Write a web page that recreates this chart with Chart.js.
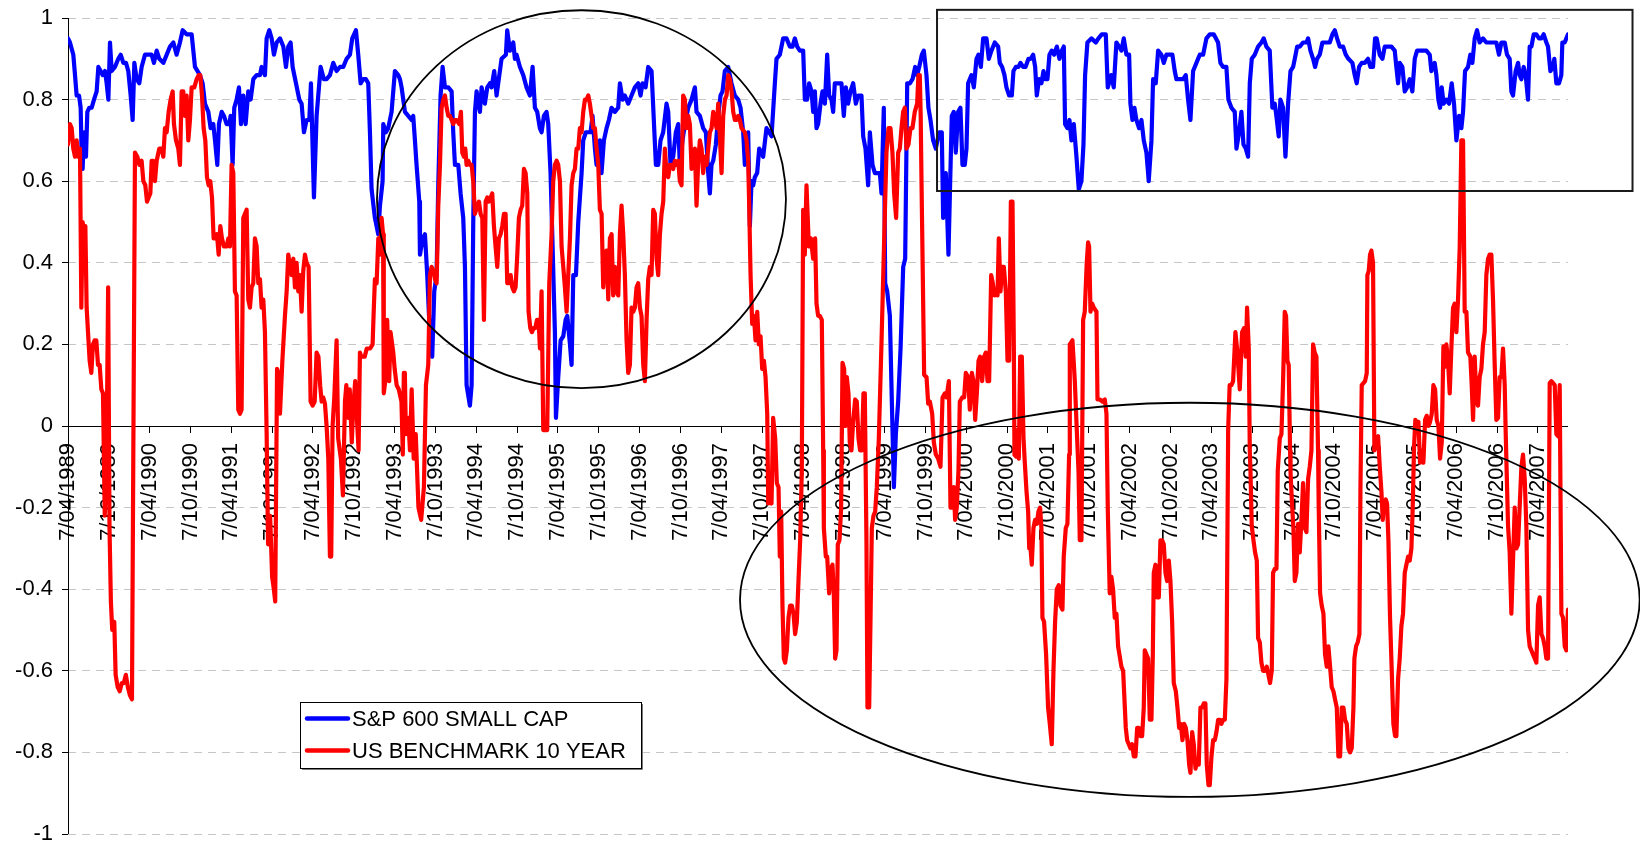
<!DOCTYPE html>
<html>
<head>
<meta charset="utf-8">
<script src="https://cdn.jsdelivr.net/npm/chart.js@4.4.1/dist/chart.umd.min.js"></script>
<style>
  html, body { margin: 0; padding: 0; background: #ffffff; }
  #wrap { width: 1640px; height: 843px; position: relative; }
</style>
</head>
<body>
<div id="wrap"><canvas id="chart" width="1640" height="843"></canvas></div>
<script>
// Rolling correlations. Time is measured in months after 7 April 1989.
const periodLabels = [
  '7/04/1989','7/10/1989','7/04/1990','7/10/1990','7/04/1991','7/10/1991',
  '7/04/1992','7/10/1992','7/04/1993','7/10/1993','7/04/1994','7/10/1994',
  '7/04/1995','7/10/1995','7/04/1996','7/10/1996','7/04/1997','7/10/1997',
  '7/04/1998','7/10/1998','7/04/1999','7/10/1999','7/04/2000','7/10/2000',
  '7/04/2001','7/10/2001','7/04/2002','7/10/2002','7/04/2003','7/10/2003',
  '7/04/2004','7/10/2004','7/04/2005','7/10/2005','7/04/2006','7/10/2006',
  '7/04/2007'
];
const periodMonths = periodLabels.map((_, i) => i * 6);
const lastMonth = 220.42;

const seriesNames = ['S&P 600 SMALL CAP', 'US BENCHMARK 10 YEAR'];

// [month, correlation]
const smallCapCorr = [
[0,0.95],[0.29,0.94],[0.78,0.91],[1.03,0.86],[1.27,0.81],[1.62,0.81],[1.86,0.78],[2.01,0.66],[2.15,0.63],[2.35,0.72],
[2.64,0.66],[2.84,0.77],[3.13,0.78],[3.48,0.78],[3.82,0.80],[4.21,0.82],[4.46,0.88],[4.80,0.87],[5.09,0.86],[5.44,0.87],
[5.68,0.84],[5.93,0.80],[6.17,0.94],[6.42,0.87],[6.90,0.88],[7.39,0.90],[7.74,0.91],[8.13,0.89],[8.52,0.89],[8.86,0.87],
[9.21,0.81],[9.50,0.75],[9.75,0.89],[10.09,0.85],[10.48,0.84],[10.82,0.88],[11.31,0.91],[11.80,0.91],[12.29,0.91],[12.63,0.89],
[13.03,0.92],[13.42,0.90],[14.01,0.89],[14.50,0.91],[14.99,0.93],[15.48,0.94],[15.96,0.91],[16.45,0.94],[16.85,0.97],[17.43,0.96],
[18.17,0.96],[18.66,0.88],[19.39,0.86],[19.78,0.84],[20.13,0.79],[20.62,0.77],[20.96,0.73],[21.35,0.74],[21.60,0.70],[21.94,0.64],
[22.18,0.74],[22.58,0.77],[22.92,0.76],[23.31,0.74],[23.70,0.74],[23.90,0.76],[24.19,0.64],[24.43,0.78],[24.78,0.80],[25.12,0.83],
[25.42,0.74],[25.76,0.81],[26.10,0.74],[26.49,0.82],[26.84,0.80],[27.23,0.85],[27.72,0.86],[28.21,0.86],[28.45,0.88],[28.94,0.86],
[29.19,0.95],[29.58,0.97],[29.92,0.95],[30.26,0.91],[30.66,0.94],[31.15,0.95],[31.64,0.93],[32.03,0.88],[32.37,0.93],[32.71,0.94],
[33.01,0.88],[33.50,0.84],[33.99,0.80],[34.33,0.79],[34.67,0.72],[35.06,0.75],[35.46,0.75],[35.70,0.84],[36.14,0.56],[36.53,0.76],
[37.12,0.88],[37.61,0.85],[38.00,0.85],[38.49,0.86],[38.98,0.89],[39.47,0.87],[39.96,0.88],[40.45,0.88],[40.94,0.90],[41.43,0.91],
[41.77,0.95],[42.31,0.97],[42.65,0.91],[43.00,0.84],[43.39,0.85],[43.78,0.85],[44.12,0.84],[44.37,0.72],[44.61,0.58],[45.10,0.51],
[45.59,0.47],[45.84,0.54],[46.23,0.60],[46.33,0.74],[46.72,0.72],[47.06,0.73],[47.55,0.77],[48.04,0.87],[48.53,0.86],[48.78,0.85],
[49.02,0.83],[49.51,0.77],[50.00,0.76],[50.49,0.75],[50.73,0.76],[50.98,0.70],[51.22,0.64],[51.62,0.55],[51.72,0.42],[52.11,0.46],
[52.45,0.47],[52.79,0.37],[53.18,0.22],[53.52,0.17],[53.82,0.33],[54.16,0.37],[54.41,0.59],[54.75,0.81],[55.05,0.88],[55.39,0.83],
[55.88,0.83],[56.37,0.82],[56.61,0.72],[56.86,0.64],[57.35,0.64],[57.69,0.57],[58.08,0.51],[58.33,0.39],[58.57,0.10],[59.06,0.05],
[59.31,0.10],[59.55,0.50],[59.80,0.77],[60.04,0.82],[60.53,0.77],[60.78,0.83],[61.26,0.79],[61.61,0.83],[62.00,0.84],[62.24,0.83],
[62.63,0.87],[62.98,0.81],[63.22,0.84],[63.71,0.90],[64.35,0.91],[64.54,0.97],[64.94,0.92],[65.43,0.94],[65.67,0.90],[65.92,0.91],
[66.41,0.88],[66.90,0.86],[67.38,0.83],[67.87,0.81],[68.27,0.88],[68.61,0.78],[68.95,0.77],[69.34,0.73],[69.59,0.72],[69.93,0.76],
[70.32,0.77],[70.57,0.74],[70.91,0.62],[71.16,0.47],[71.55,0.23],[71.70,0.02],[72.04,0.12],[72.39,0.21],[72.78,0.22],[73.12,0.26],
[73.37,0.27],[73.76,0.20],[74.00,0.15],[74.25,0.37],[74.64,0.37],[74.98,0.50],[75.47,0.62],[75.71,0.70],[76.10,0.72],[76.45,0.72],
[76.79,0.72],[77.08,0.76],[77.43,0.68],[77.67,0.64],[78.16,0.70],[78.40,0.62],[78.75,0.70],[79.14,0.73],[79.48,0.75],[79.87,0.78],
[80.36,0.77],[80.85,0.78],[81.10,0.84],[81.49,0.80],[81.83,0.81],[82.32,0.79],[82.81,0.81],[83.30,0.83],[83.79,0.84],[84.14,0.81],
[84.43,0.84],[84.87,0.83],[85.26,0.88],[85.75,0.87],[86.00,0.78],[86.39,0.64],[86.73,0.64],[87.07,0.70],[87.46,0.72],[87.95,0.79],
[88.20,0.77],[88.54,0.64],[88.93,0.66],[89.32,0.72],[89.67,0.74],[89.91,0.64],[90.30,0.70],[90.65,0.74],[91.14,0.78],[91.63,0.80],
[92.12,0.83],[92.36,0.77],[92.85,0.76],[93.34,0.73],[93.73,0.72],[94.08,0.62],[94.32,0.57],[94.56,0.64],[94.81,0.65],[95.20,0.69],
[95.54,0.76],[95.89,0.81],[96.18,0.82],[96.52,0.87],[97.01,0.88],[97.50,0.84],[97.99,0.81],[98.48,0.80],[98.83,0.78],[99.22,0.72],
[99.46,0.64],[99.95,0.72],[100.20,0.49],[100.44,0.60],[100.69,0.59],[100.93,0.61],[101.27,0.62],[101.57,0.68],[101.91,0.67],[102.15,0.66],
[102.64,0.73],[103.04,0.72],[103.38,0.71],[103.87,0.84],[104.11,0.90],[104.60,0.91],[105.09,0.95],[105.58,0.95],[106.07,0.93],[106.46,0.93],
[106.81,0.95],[107.15,0.93],[107.54,0.92],[108.03,0.92],[108.28,0.80],[108.62,0.80],[108.91,0.84],[109.26,0.82],[109.50,0.77],[109.75,0.82],
[109.99,0.73],[110.23,0.74],[110.58,0.79],[110.87,0.82],[111.22,0.79],[111.56,0.91],[111.85,0.81],[112.19,0.80],[112.44,0.77],[112.68,0.84],
[113.17,0.84],[113.66,0.84],[114.00,0.76],[114.30,0.83],[114.64,0.79],[114.98,0.82],[115.38,0.84],[115.77,0.79],[116.11,0.81],[116.60,0.81],
[116.85,0.71],[117.19,0.68],[117.58,0.59],[117.83,0.72],[118.22,0.64],[118.56,0.62],[119.05,0.62],[119.30,0.62],[119.54,0.57],[119.88,0.78],
[120.08,0.35],[120.38,0.33],[120.77,0.27],[121.06,0.06],[121.36,-0.15],[121.65,-0.02],[121.99,0.06],[122.34,0.19],[122.73,0.39],[123.02,0.41],
[123.32,0.84],[123.71,0.84],[124.10,0.85],[124.49,0.88],[124.78,0.86],[125.08,0.88],[125.47,0.91],[125.76,0.92],[126.15,0.86],[126.44,0.78],
[126.74,0.75],[127.13,0.70],[127.52,0.68],[128.01,0.72],[128.40,0.72],[128.60,0.51],[128.99,0.62],[129.38,0.42],[129.62,0.59],[129.87,0.76],
[130.16,0.77],[130.46,0.67],[130.80,0.77],[131.14,0.78],[131.44,0.64],[131.78,0.64],[132.03,0.68],[132.27,0.84],[132.76,0.86],[133.11,0.83],
[133.50,0.90],[133.79,0.91],[134.14,0.88],[134.48,0.95],[134.97,0.95],[135.31,0.90],[135.70,0.92],[136.19,0.94],[136.68,0.93],[136.92,0.89],
[137.27,0.88],[137.61,0.86],[137.90,0.83],[138.30,0.81],[138.69,0.81],[138.93,0.87],[139.28,0.88],[139.67,0.88],[139.96,0.89],[140.35,0.88],
[140.70,0.88],[141.14,0.90],[141.48,0.90],[141.82,0.91],[142.12,0.88],[142.36,0.81],[142.70,0.85],[143.05,0.84],[143.34,0.87],[143.63,0.85],
[143.93,0.85],[144.22,0.91],[144.56,0.92],[144.91,0.91],[145.30,0.93],[145.69,0.90],[146.04,0.92],[146.33,0.93],[146.52,0.74],[146.87,0.73],
[147.16,0.75],[147.45,0.70],[147.80,0.74],[148.19,0.66],[148.53,0.58],[148.92,0.60],[149.22,0.69],[149.46,0.86],[149.80,0.94],[150.39,0.95],
[151.03,0.94],[151.42,0.95],[151.91,0.96],[152.25,0.96],[152.50,0.96],[152.79,0.83],[153.28,0.86],[153.67,0.83],[154.06,0.94],[154.46,0.93],
[154.80,0.92],[155.14,0.95],[155.53,0.91],[155.93,0.91],[156.12,0.79],[156.42,0.75],[156.71,0.78],[157.00,0.75],[157.39,0.73],[157.74,0.75],
[158.08,0.70],[158.47,0.67],[158.81,0.60],[159.21,0.70],[159.45,0.85],[159.84,0.84],[160.19,0.92],[160.68,0.91],[161.02,0.89],[161.41,0.91],
[161.80,0.91],[162.29,0.91],[162.63,0.87],[162.88,0.85],[163.37,0.85],[163.86,0.85],[164.25,0.86],[164.59,0.80],[164.94,0.75],[165.33,0.87],
[165.82,0.89],[166.31,0.91],[166.80,0.91],[167.29,0.95],[167.78,0.96],[168.36,0.96],[169.00,0.94],[169.34,0.89],[169.73,0.88],[170.22,0.88],
[170.52,0.80],[170.96,0.78],[171.45,0.77],[171.70,0.68],[172.09,0.72],[172.43,0.77],[172.73,0.69],[173.07,0.68],[173.41,0.66],[173.66,0.84],
[173.95,0.90],[174.39,0.91],[174.88,0.93],[175.37,0.94],[175.71,0.95],[176.10,0.93],[176.59,0.92],[176.98,0.78],[177.33,0.79],[177.57,0.76],
[177.91,0.71],[178.16,0.80],[178.55,0.78],[178.90,0.66],[179.29,0.79],[179.64,0.87],[180.03,0.88],[180.27,0.90],[180.62,0.93],[181.00,0.93],
[181.49,0.94],[181.98,0.94],[182.23,0.95],[182.57,0.92],[182.96,0.90],[183.26,0.88],[183.55,0.90],[183.94,0.91],[184.33,0.94],[184.68,0.94],
[185.07,0.94],[185.41,0.94],[185.80,0.96],[186.15,0.97],[186.49,0.95],[186.88,0.93],[187.37,0.93],[187.76,0.91],[188.15,0.90],[188.74,0.89],
[189.08,0.86],[189.37,0.84],[189.72,0.88],[190.11,0.89],[190.55,0.89],[191.04,0.90],[191.38,0.88],[191.77,0.88],[192.07,0.95],[192.31,0.95],
[192.75,0.91],[193.15,0.90],[193.49,0.93],[193.98,0.93],[194.47,0.93],[194.96,0.92],[195.20,0.88],[195.45,0.84],[195.69,0.89],[196.08,0.88],
[196.43,0.82],[196.77,0.83],[197.16,0.85],[197.55,0.82],[197.90,0.90],[198.24,0.92],[198.63,0.92],[199.12,0.92],[199.61,0.92],[200.10,0.91],
[200.34,0.87],[200.83,0.89],[201.08,0.86],[201.37,0.80],[201.62,0.78],[201.86,0.83],[202.15,0.79],[202.55,0.80],[202.94,0.79],[203.33,0.84],
[203.67,0.79],[204.02,0.70],[204.41,0.76],[204.75,0.73],[205.00,0.77],[205.29,0.87],[205.73,0.88],[206.07,0.91],[206.37,0.89],[206.71,0.95],
[207.05,0.97],[207.44,0.94],[207.93,0.95],[208.42,0.94],[209.01,0.94],[209.40,0.94],[209.89,0.94],[210.28,0.91],[210.63,0.94],[211.12,0.94],
[211.46,0.91],[211.85,0.90],[212.10,0.82],[212.34,0.81],[212.73,0.87],[213.08,0.89],[213.32,0.86],[213.57,0.85],[213.91,0.88],[214.20,0.86],
[214.54,0.80],[214.79,0.93],[215.04,0.93],[215.38,0.96],[215.77,0.96],[216.16,0.95],[216.50,0.95],[216.85,0.96],[217.24,0.94],[217.48,0.93],
[217.83,0.87],[218.22,0.88],[218.41,0.90],[218.71,0.84],[219.10,0.84],[219.44,0.86],[219.59,0.94],[219.93,0.94],[220.18,0.95],[220.42,0.96]
];

const treasuryCorr = [
[0,0.69],[0.29,0.74],[0.54,0.73],[0.78,0.68],[1.03,0.66],[1.27,0.70],[1.52,0.66],[1.76,0.68],[1.96,0.29],[2.15,0.50],
[2.40,0.47],[2.55,0.49],[2.74,0.29],[2.94,0.23],[3.18,0.16],[3.43,0.13],[3.67,0.20],[3.92,0.21],[4.16,0.21],[4.41,0.15],
[4.65,0.15],[4.90,0.09],[5.14,0.08],[5.40,-0.22],[5.65,-0.10],[5.90,0.34],[6.10,-0.25],[6.30,-0.43],[6.50,-0.50],[6.80,-0.48],
[7.00,-0.61],[7.30,-0.64],[7.60,-0.65],[7.90,-0.63],[8.20,-0.63],[8.50,-0.61],[8.80,-0.64],[9.10,-0.66],[9.40,-0.67],[9.84,0.67],
[10.19,0.66],[10.48,0.64],[10.82,0.65],[11.07,0.60],[11.36,0.59],[11.61,0.55],[11.85,0.56],[12.10,0.57],[12.29,0.65],[12.54,0.65],
[12.78,0.60],[13.03,0.65],[13.42,0.68],[13.76,0.68],[14.01,0.66],[14.25,0.73],[14.50,0.72],[14.79,0.77],[15.08,0.80],[15.38,0.82],
[15.57,0.74],[15.87,0.70],[16.21,0.68],[16.45,0.64],[16.70,0.82],[16.94,0.82],[17.19,0.76],[17.43,0.81],[17.68,0.70],[17.92,0.75],
[18.17,0.83],[18.56,0.83],[18.90,0.85],[19.20,0.86],[19.44,0.86],[19.69,0.81],[19.93,0.73],[20.18,0.70],[20.42,0.61],[20.67,0.59],
[20.91,0.60],[21.16,0.56],[21.40,0.46],[21.65,0.46],[21.89,0.47],[22.14,0.42],[22.38,0.49],[22.62,0.46],[22.92,0.44],[23.31,0.44],
[23.56,0.46],[23.80,0.44],[24.04,0.64],[24.29,0.62],[24.53,0.33],[24.78,0.32],[25.02,0.04],[25.27,0.03],[25.51,0.04],[25.76,0.51],
[26.00,0.52],[26.25,0.53],[26.49,0.31],[26.74,0.29],[26.98,0.34],[27.23,0.35],[27.47,0.46],[27.72,0.44],[27.96,0.35],[28.21,0.36],
[28.45,0.29],[28.70,0.31],[28.94,0.23],[29.19,-0.02],[29.40,-0.29],[29.70,-0.22],[30.00,-0.37],[30.25,-0.40],[30.45,-0.43],[30.72,0.14],
[30.90,0.13],[31.15,0.03],[31.50,0.16],[31.88,0.27],[32.13,0.33],[32.37,0.42],[32.62,0.39],[32.86,0.37],[33.11,0.41],
[33.35,0.34],[33.59,0.40],[33.84,0.33],[34.08,0.37],[34.33,0.28],[34.57,0.38],[34.82,0.42],[35.06,0.40],[35.36,0.39],[35.65,0.06],
[35.95,0.05],[36.25,0.06],[36.53,0.18],[36.80,0.17],[37.05,0.10],[37.27,0.06],[37.51,0.07],[37.76,0.055],[38.00,0.00],[38.25,-0.08],
[38.49,-0.32],[38.68,-0.32],[38.88,0.00],[39.13,0.07],[39.47,0.21],[39.70,-0.03],[40.10,-0.08],[40.40,-0.17],[40.70,0.06],[40.90,0.10],[41.20,0.02],
[41.40,0.09],[41.70,-0.04],[41.90,0.04],[42.20,0.11],[42.45,0.02],[42.70,-0.06],[42.90,0.18],[43.10,0.17],[43.60,0.17],[43.90,0.19],
[44.40,0.19],[44.76,0.20],[44.90,0.27],[45.10,0.36],[45.35,0.35],[45.60,0.46],[45.84,0.42],[46.08,0.51],[46.30,0.47],[46.40,0.08],
[46.70,0.12],[46.90,0.26],[47.20,0.11],[47.40,0.23],[47.80,0.18],[48.00,0.14],[48.30,0.10],[48.60,0.09],[49.00,0.06],[49.20,-0.07],
[49.35,0.13],[49.50,0.13],[49.65,-0.02],[50.00,0.02],[50.25,-0.06],[50.50,0.09],[50.80,-0.08],[51.10,-0.02],[51.50,-0.20],[51.90,-0.23],
[52.30,-0.15],[52.60,0.10],[52.94,0.15],[53.19,0.37],[53.43,0.39],[53.68,0.38],[53.92,0.36],[54.17,0.35],[54.41,0.54],[54.66,0.64],
[54.90,0.78],[55.15,0.80],[55.39,0.81],[55.64,0.78],[55.88,0.76],[56.13,0.76],[56.37,0.75],[56.61,0.74],[56.86,0.75],[57.10,0.75],
[57.50,0.74],[57.74,0.77],[57.94,0.67],[58.18,0.66],[58.38,0.68],[58.57,0.64],[58.82,0.65],[59.06,0.64],[59.31,0.64],[59.55,0.60],
[59.80,0.52],[60.14,0.54],[60.39,0.55],[60.63,0.52],[60.88,0.51],[61.12,0.26],[61.37,0.55],[61.61,0.56],[61.85,0.55],[62.10,0.56],
[62.34,0.57],[62.59,0.49],[62.83,0.44],[63.08,0.39],[63.32,0.46],[63.57,0.47],[63.81,0.49],[64.06,0.52],[64.30,0.52],[64.55,0.35],
[64.79,0.35],[65.04,0.37],[65.28,0.34],[65.53,0.33],[65.77,0.34],[66.02,0.42],[66.26,0.51],[66.51,0.53],[66.75,0.54],[67.00,0.63],
[67.24,0.62],[67.49,0.57],[67.68,0.28],[67.93,0.24],[68.17,0.23],[68.42,0.24],[68.66,0.24],[68.91,0.26],[69.15,0.26],[69.35,0.19],
[69.59,0.33],[69.84,-0.01],[70.13,-0.01],[70.42,-0.01],[70.72,0.35],[71.06,0.47],[71.30,0.60],[71.55,0.64],[71.80,0.65],[72.04,0.64],
[72.29,0.60],[72.53,0.44],[72.78,0.39],[73.02,0.34],[73.27,0.28],[73.51,0.37],[73.76,0.46],[74.00,0.59],[74.25,0.62],[74.49,0.63],
[74.73,0.68],[74.98,0.68],[75.22,0.73],[75.47,0.72],[75.71,0.77],[75.96,0.80],[76.20,0.80],[76.45,0.81],[76.69,0.79],[76.94,0.76],
[77.18,0.73],[77.43,0.73],[77.67,0.68],[77.92,0.64],[78.16,0.53],[78.41,0.52],[78.65,0.34],[78.90,0.42],[79.14,0.43],[79.39,0.31],
[79.63,0.46],[79.88,0.47],[80.12,0.32],[80.37,0.39],[80.61,0.33],[80.86,0.32],[81.10,0.47],[81.34,0.54],[81.59,0.47],[81.83,0.37],
[82.08,0.21],[82.32,0.13],[82.57,0.15],[82.81,0.29],[83.06,0.28],[83.30,0.29],[83.55,0.34],[83.79,0.35],[84.04,0.29],[84.28,0.27],
[84.53,0.15],[84.77,0.11],[85.02,0.26],[85.26,0.36],[85.51,0.39],[85.75,0.37],[86.00,0.53],[86.24,0.52],[86.49,0.41],[86.73,0.37],
[86.98,0.47],[87.22,0.52],[87.47,0.55],[87.71,0.68],[87.96,0.62],[88.20,0.61],[88.45,0.64],[88.69,0.64],[88.94,0.63],[89.18,0.65],
[89.43,0.64],[89.67,0.65],[89.91,0.60],[90.16,0.59],[90.40,0.81],[90.65,0.80],[90.89,0.73],[91.14,0.76],[91.38,0.74],[91.63,0.63],
[91.87,0.65],[92.12,0.68],[92.36,0.54],[92.61,0.65],[92.85,0.70],[93.10,0.68],[93.34,0.62],[93.59,0.66],[93.83,0.64],[94.08,0.68],
[94.32,0.72],[94.57,0.73],[94.81,0.77],[95.06,0.75],[95.30,0.73],[95.55,0.79],[95.79,0.71],[96.04,0.62],[96.28,0.76],[96.53,0.80],
[96.77,0.81],[97.02,0.86],[97.26,0.85],[97.51,0.82],[97.75,0.77],[98.00,0.75],[98.24,0.75],[98.49,0.76],[98.73,0.75],[98.97,0.73],
[99.46,0.72],[99.71,0.70],[99.95,0.65],[100.10,0.54],[100.30,0.37],[100.54,0.25],[100.79,0.27],[101.03,0.21],[101.28,0.28],[101.52,0.20],
[101.77,0.22],[102.01,0.14],[102.26,0.16],[102.50,0.12],[102.75,0.03],[102.90,-0.19],[103.03,-0.16],[103.38,-0.19],[103.62,0.02],[103.92,-0.03],
[104.16,-0.14],[104.41,-0.15],[104.60,-0.32],[104.80,-0.21],[104.99,-0.44],[105.19,-0.57],[105.38,-0.58],[105.63,-0.55],[105.87,-0.47],[106.12,-0.44],
[106.36,-0.44],[106.61,-0.46],[106.85,-0.51],[107.10,-0.48],[107.34,-0.38],[107.59,-0.28],[107.83,-0.11],[108.03,0.53],[108.27,0.42],[108.52,0.59],
[108.86,0.44],[109.16,0.46],[109.50,0.41],[109.79,0.46],[109.99,0.30],[110.23,0.27],[110.48,0.27],[110.77,0.26],[110.97,-0.06],[111.07,-0.25],
[111.36,-0.32],[111.56,-0.32],[111.85,-0.41],[112.09,-0.35],[112.34,-0.34],[112.53,-0.41],[112.73,-0.57],[112.93,-0.55],[113.12,-0.29],[113.37,-0.28],
[113.61,-0.20],[113.81,0.155],[114.05,0.14],[114.25,0.00],[114.44,0.12],[114.69,0.08],[114.88,-0.04],[115.13,-0.06],[115.37,0.01],[115.67,0.065],
[115.91,0.06],[116.16,-0.03],[116.40,-0.06],[116.65,-0.06],[116.89,0.08],[117.09,0.08],[117.33,-0.28],[117.48,-0.69],[117.73,-0.69],[117.92,-0.48],
[118.12,-0.25],[118.36,-0.22],[118.61,-0.21],[118.85,-0.15],[119.15,-0.03],[119.55,0.21],[120.03,0.52],[120.27,0.67],[120.57,0.73],[120.86,0.73],
[121.15,0.67],[121.40,0.57],[121.69,0.51],[121.99,0.67],[122.23,0.68],[122.48,0.73],[122.72,0.77],[122.97,0.78],[123.21,0.68],[123.50,0.69],
[123.80,0.73],[124.09,0.73],[124.43,0.77],[124.78,0.79],[124.97,0.86],[125.17,0.86],[125.30,0.76],[125.42,0.60],[125.81,0.125],[126.16,0.12],
[126.40,0.055],[126.65,0.06],[126.99,0.03],[127.23,-0.04],[127.53,-0.07],[127.87,-0.08],[128.21,-0.10],[128.51,0.07],[128.85,0.08],[129.09,0.07],
[129.44,0.11],[129.68,-0.20],[129.97,-0.20],[130.16,-0.15],[130.36,-0.23],[130.60,-0.20],[130.85,-0.11],[131.05,0.06],[131.40,0.07],[131.69,0.07],
[131.93,0.13],[132.28,0.12],[132.52,0.04],[132.82,0.13],[133.06,0.11],[133.31,0.015],[133.55,0.08],[133.80,0.16],[134.04,0.17],[134.33,0.11],
[134.63,0.17],[134.87,0.18],[135.12,0.11],[135.36,0.11],[135.66,0.37],[135.90,0.35],[136.15,0.32],[136.39,0.33],[136.59,0.32],[136.78,0.46],
[137.03,0.33],[137.27,0.39],[137.52,0.39],[137.81,0.33],[138.06,0.16],[138.30,0.16],[138.55,0.55],[138.79,0.55],[138.99,0.19],[139.08,-0.07],
[139.33,-0.075],[139.52,-0.01],[139.72,-0.08],[139.92,0.17],[140.16,0.17],[140.41,-0.03],[140.60,-0.09],[140.85,-0.16],[141.09,-0.21],[141.25,-0.30],
[141.40,-0.29],[141.62,-0.34],[141.87,-0.25],[142.11,-0.23],[142.36,-0.24],[142.60,-0.21],[142.85,-0.20],[143.04,-0.25],[143.19,-0.47],
[143.43,-0.48],[143.73,-0.56],[144.02,-0.69],[144.27,-0.73],[144.56,-0.78],[144.81,-0.60],[145.05,-0.48],[145.30,-0.40],[145.59,-0.39],[145.83,-0.44],
[146.13,-0.45],[146.32,-0.32],[146.62,-0.25],[146.86,-0.24],[147.11,-0.07],[147.21,0.20],[147.60,0.21],[147.95,0.11],[148.19,0.01],[148.49,-0.11],
[148.68,-0.28],[148.92,-0.28],[149.17,0.26],[149.41,0.28],[149.70,0.40],[149.90,0.45],[150.05,0.44],[150.25,0.28],[150.49,0.30],[150.74,0.29],
[151.13,0.28],[151.28,0.065],[151.62,0.065],[152.01,0.06],[152.35,0.065],[152.60,0.03],[152.80,-0.21],[152.95,-0.32],[153.08,-0.41],[153.33,-0.37],
[153.57,-0.40],[153.82,-0.47],[154.06,-0.46],[154.31,-0.54],[154.80,-0.59],[155.05,-0.60],[155.44,-0.74],[155.64,-0.77],[155.88,-0.78],[156.13,-0.79],
[156.37,-0.78],[156.62,-0.81],[156.86,-0.81],[157.11,-0.74],[157.35,-0.74],[157.60,-0.76],[157.84,-0.76],[158.08,-0.69],[158.23,-0.55],[158.48,-0.56],
[158.72,-0.57],[158.97,-0.72],[159.21,-0.72],[159.41,-0.56],[159.55,-0.36],[159.80,-0.34],[160.04,-0.42],[160.29,-0.42],[160.53,-0.28],[160.78,-0.28],
[161.02,-0.29],[161.27,-0.36],[161.51,-0.38],[161.76,-0.33],[162.00,-0.38],[162.25,-0.48],[162.49,-0.63],[162.79,-0.65],[163.03,-0.69],[163.28,-0.74],
[163.52,-0.73],[163.77,-0.77],[164.01,-0.73],[164.26,-0.74],[164.50,-0.77],[164.75,-0.83],[164.94,-0.85],[165.19,-0.75],[165.43,-0.78],[165.68,-0.84],
[165.92,-0.82],[166.16,-0.83],[166.41,-0.69],[166.65,-0.69],[166.90,-0.68],[167.14,-0.68],[167.34,-0.83],[167.59,-0.88],[167.78,-0.88],[168.03,-0.81],
[168.27,-0.77],[168.52,-0.77],[168.76,-0.75],[169.01,-0.72],[169.25,-0.72],[169.50,-0.73],[169.74,-0.72],[169.99,-0.72],[170.23,-0.62],[170.48,-0.01],
[170.70,0.10],[170.96,0.10],[171.21,0.11],[171.55,0.23],[171.84,0.18],[172.19,0.09],[172.53,0.23],[172.82,0.24],[173.07,0.17],[173.26,0.29],
[173.51,0.19],[173.66,-0.06],[173.76,-0.11],[173.95,-0.245],[174.20,-0.28],[174.44,-0.31],[174.69,-0.33],[174.88,-0.52],[175.13,-0.53],[175.37,-0.58],
[175.62,-0.60],[175.91,-0.60],[176.15,-0.59],[176.40,-0.61],[176.64,-0.63],[176.89,-0.60],[177.08,-0.36],[177.33,-0.35],[177.58,-0.35],[177.77,-0.11],
[178.07,-0.03],[178.31,-0.02],[178.55,0.11],[178.80,0.28],[178.99,0.27],[179.19,0.16],[179.38,0.15],[179.58,-0.06],[179.65,-0.115],[179.83,-0.18],
[180.07,-0.25],[180.27,-0.38],[180.51,-0.36],[180.76,-0.24],[181.00,-0.31],[181.25,-0.23],[181.49,-0.14],[181.74,-0.25],[181.98,-0.26],[182.23,-0.13],
[182.47,-0.10],[182.72,-0.06],[182.96,0.20],[183.20,0.18],[183.45,0.17],[183.69,-0.06],[183.79,-0.20],[183.99,-0.41],[184.23,-0.44],[184.48,-0.46],
[184.72,-0.56],[184.97,-0.59],[185.21,-0.54],[185.46,-0.59],[185.70,-0.64],[185.95,-0.65],[186.19,-0.67],[186.44,-0.69],[186.68,-0.81],[186.93,-0.81],
[187.17,-0.69],[187.42,-0.69],[187.66,-0.72],[187.91,-0.73],[188.15,-0.79],[188.40,-0.80],[188.64,-0.79],[188.89,-0.69],[189.03,-0.57],[189.28,-0.54],
[189.52,-0.53],[189.77,-0.51],[189.92,-0.155],[190.11,0.10],[190.36,0.105],[190.60,0.11],[190.85,0.13],[190.94,0.37],[191.14,0.38],[191.33,0.42],
[191.53,0.43],[191.77,0.40],[191.97,-0.06],[192.27,-0.03],[192.51,-0.025],[192.76,-0.10],[193.00,-0.16],[193.20,-0.23],[193.39,-0.19],[193.64,-0.18],
[193.83,-0.19],[194.03,-0.28],[194.27,-0.47],[194.52,-0.60],[194.76,-0.73],[195.01,-0.76],[195.20,-0.76],[195.45,-0.62],[195.69,-0.57],[195.94,-0.49],
[196.18,-0.46],[196.43,-0.36],[196.67,-0.34],[196.92,-0.32],[197.16,-0.33],[197.41,-0.30],[197.60,-0.20],[197.80,-0.05],[197.99,0.015],[198.19,0.01],
[198.44,0.01],[198.68,-0.09],[198.93,-0.06],[199.17,-0.09],[199.42,0.015],[199.66,0.025],[199.91,0.00],[200.15,0.01],[200.40,0.03],[200.64,0.10],
[200.89,0.09],[201.13,0.015],[201.38,0.00],[201.62,-0.08],[201.87,-0.04],[202.11,0.195],[202.30,0.145],[202.55,0.20],[202.79,0.16],[203.04,0.08],
[203.28,0.19],[203.53,0.29],[203.77,0.30],[204.02,0.23],[204.26,0.31],[204.51,0.44],[204.75,0.70],[205.00,0.70],[205.24,0.28],[205.49,0.28],
[205.73,0.18],[206.07,0.17],[206.27,0.10],[206.47,0.015],[206.71,0.17],[206.96,0.06],[207.20,0.05],[207.44,0.12],[207.69,0.14],[207.93,0.20],
[208.18,0.23],[208.42,0.37],[208.67,0.41],[208.91,0.42],[209.16,0.42],[209.40,0.31],[209.65,0.15],[209.89,0.015],[210.14,0.02],[210.38,0.12],
[210.63,0.12],[210.87,0.19],[211.12,0.10],[211.27,-0.02],[211.61,-0.245],[211.85,-0.31],[212.10,-0.46],[212.34,-0.33],[212.59,-0.20],[212.83,-0.30],
[213.08,-0.29],[213.57,-0.10],[213.81,-0.07],[214.06,-0.13],[214.30,-0.245],[214.55,-0.50],[214.79,-0.54],[215.04,-0.55],[215.28,-0.56],[215.53,-0.57],
[215.77,-0.58],[216.02,-0.44],[216.26,-0.42],[216.51,-0.51],[216.75,-0.52],[217.00,-0.54],[217.24,-0.57],[217.49,-0.57],[217.73,0.105],[217.98,0.11],
[218.22,0.105],[218.47,0.10],[218.71,-0.02],[218.96,-0.025],[219.20,0.10],[219.45,-0.46],[219.69,-0.47],[219.94,-0.54],[220.18,-0.55],[220.42,-0.45]
];

// Hand-drawn highlight marks, in chart units (months, correlation)
const highlightEllipses = [
  { cx: 75.45, cy: 0.556, rx: 30.05, ry: 0.463 },
  { cx: 164.85, cy: -0.426, rx: 66.1, ry: 0.483 }
];
const highlightBox = { x0: 127.7, x1: 229.9, y0: 1.02, y1: 0.576 };

const FONT = "'Liberation Sans', Arial, Helvetica, sans-serif";
Chart.defaults.font.family = FONT;
Chart.defaults.color = '#000000';

const toPoints = arr => arr.map(([m, v]) => ({ x: m, y: v }));

// solid black axis lines drawn over the dashed grid
const axisLines = {
  id: 'axisLines',
  beforeDatasetsDraw(chart) {
    const { ctx, chartArea: a, scales: { y } } = chart;
    const y0 = Math.round(y.getPixelForValue(0)) + 0.5;
    const xl = Math.round(a.left) + 0.5;
    ctx.save();
    ctx.strokeStyle = '#000000';
    ctx.lineWidth = 1;
    ctx.beginPath();
    ctx.moveTo(xl, a.top);
    ctx.lineTo(xl, a.bottom);
    ctx.moveTo(a.left, y0);
    ctx.lineTo(a.right, y0);
    ctx.stroke();
    ctx.restore();
  }
};

const highlights = {
  id: 'highlights',
  afterDatasetsDraw(chart) {
    const { ctx, scales: { x, y } } = chart;
    ctx.save();
    ctx.strokeStyle = '#000000';
    ctx.lineWidth = 1.8;
    highlightEllipses.forEach(e => {
      const px = x.getPixelForValue(e.cx), py = y.getPixelForValue(e.cy);
      const rx = Math.abs(x.getPixelForValue(e.cx + e.rx) - px);
      const ry = Math.abs(y.getPixelForValue(e.cy + e.ry) - py);
      ctx.beginPath();
      ctx.ellipse(px, py, rx, ry, 0, 0, Math.PI * 2);
      ctx.stroke();
    });
    const bx0 = x.getPixelForValue(highlightBox.x0), bx1 = x.getPixelForValue(highlightBox.x1);
    const by0 = y.getPixelForValue(highlightBox.y0), by1 = y.getPixelForValue(highlightBox.y1);
    ctx.strokeStyle = '#1a1a1a';
    ctx.lineWidth = 2;
    ctx.strokeRect(bx0, by0, bx1 - bx0, by1 - by0);
    ctx.restore();
  }
};

// framed legend sitting inside the lower-left of the plot
const boxLegend = {
  id: 'boxLegend',
  afterDraw(chart) {
    const { ctx } = chart;
    const left = 300, top = 702, w = 341, h = 66;
    ctx.save();
    ctx.fillStyle = '#ffffff';
    ctx.fillRect(left, top, w, h);
    ctx.strokeStyle = '#7a7a7a';
    ctx.lineWidth = 1;
    ctx.beginPath();
    ctx.moveTo(left + w + 1.5, top + 2);
    ctx.lineTo(left + w + 1.5, top + h + 1.5);
    ctx.lineTo(left + 2, top + h + 1.5);
    ctx.stroke();
    ctx.strokeStyle = '#000000';
    ctx.strokeRect(left + 0.5, top + 0.5, w, h);
    seriesNames.forEach((name, row) => {
      const ds = chart.data.datasets.find(d => d.label === name);
      const cy = top + 16.5 + row * 32;
      ctx.strokeStyle = ds.borderColor;
      ctx.lineWidth = 4.5;
      ctx.lineCap = 'round';
      ctx.beginPath();
      ctx.moveTo(left + 7, cy);
      ctx.lineTo(left + 48, cy);
      ctx.stroke();
      ctx.fillStyle = '#000000';
      ctx.font = '22px ' + FONT;
      ctx.textBaseline = 'middle';
      ctx.textAlign = 'left';
      ctx.fillText(ds.label, left + 52, cy + 1);
    });
    ctx.restore();
  }
};

new Chart(document.getElementById('chart'), {
  type: 'line',
  data: {
    datasets: [
      {
        label: seriesNames[1],
        data: toPoints(treasuryCorr),
        borderColor: '#ff0000',
        borderWidth: 4.2,
        pointRadius: 0,
        tension: 0,
        borderJoinStyle: 'round',
        borderCapStyle: 'round',
        order: 0
      },
      {
        label: seriesNames[0],
        data: toPoints(smallCapCorr),
        borderColor: '#0000ff',
        borderWidth: 4.2,
        pointRadius: 0,
        tension: 0,
        borderJoinStyle: 'round',
        borderCapStyle: 'round',
        order: 1
      }
    ]
  },
  options: {
    responsive: false,
    animation: false,
    devicePixelRatio: 1,
    layout: { padding: { left: 0, top: 18, right: 72, bottom: 9 } },
    plugins: { legend: { display: false }, tooltip: { enabled: false } },
    scales: {
      x: {
        type: 'linear',
        position: { y: 0 },
        min: 0,
        max: lastMonth,
        afterBuildTicks: s => { s.ticks = periodMonths.map(v => ({ value: v })); },
        afterFit: s => { s.paddingLeft = 0; s.paddingRight = 0; },
        ticks: {
          autoSkip: false,
          minRotation: 90,
          maxRotation: 90,
          padding: 10,
          font: { size: 22 },
          color: '#000000',
          callback: (v, i) => periodLabels[i]
        },
        grid: { drawOnChartArea: false, drawTicks: true, tickLength: 7, tickColor: '#000000', color: '#000000' },
        border: { display: false }
      },
      y: {
        type: 'linear',
        position: 'left',
        min: -1,
        max: 1,
        afterFit: s => { s.width = 68; s.paddingTop = 0; s.paddingBottom = 0; },
        ticks: {
          stepSize: 0.2,
          padding: 9,
          font: { size: 22 },
          color: '#000000',
          callback: v => String(+(+v).toFixed(1))
        },
        grid: { color: '#c6c6c6', lineWidth: 1, tickLength: 6, tickColor: '#000000', tickWidth: 1 },
        border: { display: false, dash: [8, 6] }
      }
    }
  },
  plugins: [axisLines, highlights, boxLegend]
});
</script>
</body>
</html>
